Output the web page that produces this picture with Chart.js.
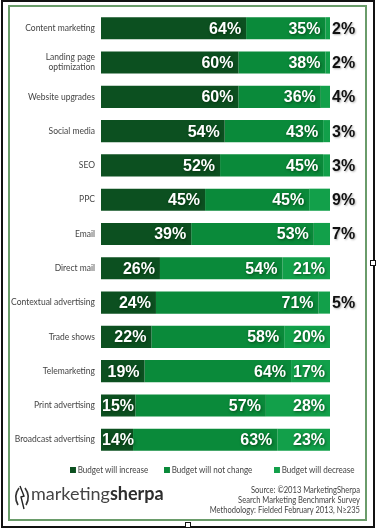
<!DOCTYPE html>
<html>
<head>
<meta charset="utf-8">
<script src="https://cdn.jsdelivr.net/npm/chart.js@4.4.0/dist/chart.umd.min.js"></script>
<style>
  body { margin: 0; background: #fff; font-family: Lato, sans-serif; }
  #page { position: relative; width: 377px; height: 529px; overflow: hidden; }
  .frame { position: absolute; left: 1px; top: 0; width: 370px; height: 524px; border: 2px solid #111; }
  .green { position: absolute; left: 8px; top: 5px; width: 355px; height: 512px; border: 2px solid #6a9c6a; }
  .handle { position: absolute; width: 4px; height: 4px; background: #fff; border: 1px solid #111; }
  #chart { position: absolute; left: 9px; top: 0; }
  .leg { position: absolute; top: 464px; font-size: 9.5px; color: #444; white-space: nowrap; transform: scaleX(0.85); transform-origin: left center; }
  .leg i { display: inline-block; width: 7px; height: 6px; margin-right: 2px; vertical-align: 0; }
  .logo { position: absolute; left: 31px; top: 482px; font-size: 18px; color: #444; white-space: nowrap; }
  .logo b { color: #2e2e2e; }
  .icon { position: absolute; left: 12px; top: 484px; }
  .src { position: absolute; right: 17px; top: 485px; font-size: 9px; line-height: 10px; color: #444; text-align: right; white-space: nowrap; transform: scaleX(0.84); transform-origin: right center; }
</style>
</head>
<body>
<div id="page">
  <div class="frame"></div>
  <div class="green"></div>
  <div class="handle" style="left:370px; top:260px;"></div>
  <div class="handle" style="left:185px; top:522px;"></div>
  <canvas id="chart" width="357" height="468"></canvas>
  <div class="leg" style="left:70px;"><i style="background:#0c5020"></i>Budget will increase</div>
  <div class="leg" style="left:164px;"><i style="background:#0a8a3a"></i>Budget will not change</div>
  <div class="leg" style="left:274px;"><i style="background:#12a04a"></i>Budget will decrease</div>
  <svg class="icon" width="20" height="26" viewBox="0 0 20 26">
    <path d="M7 4 Q1 12 6 21" fill="none" stroke="#333" stroke-width="1.6"/>
    <path d="M13 4 Q19 12 14 21" fill="none" stroke="#333" stroke-width="1.6"/>
    <path d="M8 2 L12 12 L9 13 L12 25" fill="none" stroke="#222" stroke-width="1.4"/>
  </svg>
  <div class="logo">marketing<b>sherpa</b></div>
  <div class="src">Source: ©2013 MarketingSherpa<br>Search Marketing Benchmark Survey<br>Methodology: Fielded February 2013, N≥235</div>
</div>
<script>
const categories = [
  "Content marketing", ["Landing page", "optimization"], "Website upgrades", "Social media",
  "SEO", "PPC", "Email", "Direct mail", "Contextual advertising", "Trade shows",
  "Telemarketing", "Print advertising", "Broadcast advertising"
];
const increase = [64, 60, 60, 54, 52, 45, 39, 26, 24, 22, 19, 15, 14];
const noChange = [35, 38, 36, 43, 45, 45, 53, 54, 71, 58, 64, 57, 63];
const decrease = [2, 2, 4, 3, 3, 9, 7, 21, 5, 20, 17, 28, 23];
const seriesNames = ["Budget will increase", "Budget will not change", "Budget will decrease"];
const colors = ["#0c5020", "#0a8a3a", "#12a04a"];

// bars are drawn to full width, so scale each row to 100
const totals = increase.map((v, i) => v + noChange[i] + decrease[i]);
const share = arr => arr.map((v, i) => v * 100 / totals[i]);
const raw = [increase, noChange, decrease];

const barLabels = {
  id: "barLabels",
  afterDatasetsDraw(chart) {
    const ctx = chart.ctx;
    ctx.save();
    ctx.font = "bold 16px 'Liberation Sans', Arial, sans-serif";
    ctx.textBaseline = "middle";
    chart.data.datasets.forEach((ds, d) => {
      chart.getDatasetMeta(d).data.forEach((bar, i) => {
        const v = raw[d][i];
        const text = v + "%";
        if (d === 2 && v < 10) {
          ctx.fillStyle = "#111";
          ctx.shadowColor = "rgba(0,0,0,0.3)";
          ctx.shadowBlur = 2;
          ctx.shadowOffsetX = 1;
          ctx.shadowOffsetY = 1;
          ctx.textAlign = "left";
          ctx.fillText(text, chart.chartArea.right + 2, bar.y + 1);
        } else {
          ctx.fillStyle = "#fff";
          ctx.shadowColor = "rgba(0,30,0,0.6)";
          ctx.shadowBlur = 3;
          ctx.shadowOffsetX = 1;
          ctx.shadowOffsetY = 1;
          ctx.textAlign = "right";
          const w = ctx.measureText(text).width;
          const x = Math.max(bar.x - 5, bar.base + 1 + w);
          ctx.fillText(text, x, bar.y + 1);
        }
      });
    });
    ctx.restore();
  }
};

new Chart(document.getElementById("chart"), {
  type: "bar",
  data: {
    labels: categories,
    datasets: [
      { label: seriesNames[0], data: share(increase), backgroundColor: colors[0] },
      { label: seriesNames[1], data: share(noChange), backgroundColor: colors[1] },
      { label: seriesNames[2], data: share(decrease), backgroundColor: colors[2] }
    ]
  },
  options: {
    indexAxis: "y",
    responsive: false,
    animation: false,
    layout: { padding: { top: 3, right: 36, bottom: 0, left: 0 } },
    datasets: { bar: { categoryPercentage: 1, barPercentage: 0.645 } },
    scales: {
      x: { stacked: true, min: 0, max: 100, display: false },
      y: {
        stacked: true,
        grid: { display: false, drawTicks: false },
        border: { display: false },
        ticks: { padding: 6, color: "#444", font: { family: "Lato", size: 8.5 } },
        afterFit(scale) { scale.width = 92; }
      }
    },
    plugins: { legend: { display: false }, tooltip: { enabled: false } }
  },
  plugins: [barLabels]
});
</script>
</body>
</html>
